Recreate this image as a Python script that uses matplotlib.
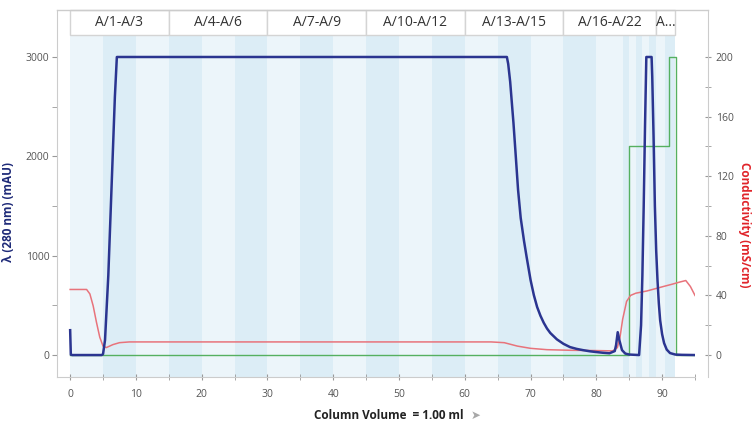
# Chromatogram: UV 280 nm, conductivity and concentration with fraction bands
import matplotlib.pyplot as plt
from matplotlib.patches import Rectangle
from matplotlib.lines import Line2D
import matplotlib.transforms as mtransforms

plt.rcParams['font.family'] = ['Open Sans', 'DejaVu Sans']

# UV absorbance (mAU) vs column volume
uv_cv = [0, 0.1, 0.3, 4.8, 5.0, 5.3, 5.8, 6.3, 6.8, 7.1,
         66.4, 66.6, 66.9, 67.2, 67.4, 67.7, 68.1, 68.5, 69.0, 69.4,
         70.0, 70.5, 71, 71.5, 72, 72.5, 73, 74, 75, 76, 77, 78, 79, 80, 81, 82,
         82.8, 83.0, 83.25, 83.5, 83.9, 84.4, 85, 86.5, 86.8, 87.0, 87.2, 87.4,
         87.6, 88.4, 88.5, 88.7, 88.9, 89.1, 89.3, 89.5, 89.7, 90.0, 90.3,
         90.7, 91.2, 92, 93, 95]
uv_val = [250, 5, 0, 0, 10, 150, 800, 1700, 2600, 3000,
          3000, 2930, 2750, 2500, 2336, 2050, 1662, 1380, 1150, 987,
          755, 603, 483, 396, 325, 267, 222, 158, 113, 80, 62, 49, 38, 30, 23, 18,
          40, 100, 230, 150, 50, 15, 5, 0, 300, 800, 1500, 2300,
          3000, 3000, 2800, 2200, 1500, 1050, 750, 520, 350, 210, 120,
          55, 20, 5, 2, 0]

# Conductivity (mS/cm)
cond_cv = [0, 2.5, 3.0, 3.5, 4.0, 4.5, 5.0, 5.5, 6.5, 7.5, 9, 64, 66, 68, 70,
           72.5, 76, 80, 82.5, 83.2, 83.6, 84.0, 84.6, 85.2, 86, 87.7, 90.2,
           91.5, 92.7, 93.6, 94.3, 95]
cond_val = [44, 44, 41, 33, 22, 12, 6, 5, 7, 8.3, 8.8, 8.8, 8.3, 6, 4.5,
            3.6, 3.2, 3.0, 2.8, 5, 12, 24, 36, 40, 41.5, 43, 46,
            47.5, 49, 50, 46, 40]

# Concentration step (green)
conc_cv = [0, 85, 91, 92.1, 95]
conc_val = [0, 140, 200, 0, 0]

# Fractions
frac_edges = [0, 5, 10, 15, 20, 25, 30, 35, 40, 45, 50, 55, 60, 65, 70, 75,
              80, 84, 85, 86, 87, 88, 89, 90.5, 92]
group_labels = ['A/1-A/3', 'A/4-A/6', 'A/7-A/9', 'A/10-A/12', 'A/13-A/15',
                'A/16-A/22', 'A...']
group_edges = [0, 15, 30, 45, 60, 75, 89, 92]

fig = plt.figure(figsize=(7.53, 4.23), dpi=100)
ax1 = fig.add_axes([57 / 753, 1 - 377 / 423, 638 / 753, 367 / 423])
ax2 = ax1.twinx()
ax1.set_zorder(ax2.get_zorder() + 1)
ax1.patch.set_visible(False)

ax1.set_xlim(-2, 95)
ax1.set_ylim(-221, 3473)
ax2.set_ylim(-221 / 15, 3473 / 15)

hdr_bottom = 0.933
# fraction bands
for i in range(len(frac_edges) - 1):
    c = '#ecf5fa' if i % 2 == 0 else '#dcedf6'
    ax2.axvspan(frac_edges[i], frac_edges[i + 1], ymin=0, ymax=hdr_bottom,
                color=c, lw=0, zorder=0)

# header boxes
trans = mtransforms.blended_transform_factory(ax2.transData, ax2.transAxes)
for lab, x0, x1 in zip(group_labels, group_edges[:-1], group_edges[1:]):
    ax2.add_patch(Rectangle((x0, hdr_bottom), x1 - x0, 1 - hdr_bottom,
                            transform=trans, facecolor='white',
                            edgecolor='#d4d4d4', lw=1, clip_on=False, zorder=1))
    ax2.text((x0 + x1) / 2, (1 + hdr_bottom) / 2, lab, transform=trans,
             ha='center', va='center', fontsize=10, color='#333333')

ax2.plot(conc_cv, conc_val, drawstyle='steps-post', color='#55b060', lw=1.0, zorder=3)
ax2.plot(cond_cv, cond_val, color='#e8737b', lw=1.1, zorder=3)
ax1.plot(uv_cv, uv_val, color='#2b3590', lw=1.8, zorder=4)

# spines
for s in ['top', 'right']:
    ax1.spines[s].set_visible(False)
for s in ['top', 'left', 'bottom']:
    ax2.spines[s].set_visible(False)
ax1.spines['left'].set_color('#cccccc')
ax1.spines['bottom'].set_color('#cccccc')
ax2.spines['right'].set_color('#cccccc')
ax2.spines['right'].set_position(('outward', 9.4))
ax1.add_line(Line2D([0, 1.0204], [1, 1], transform=ax1.transAxes,
                    color='#cccccc', lw=1, clip_on=False))

# ticks
ax1.set_xticks(range(0, 100, 10))
ax1.set_xticks(range(5, 100, 10), minor=True)
ax1.set_yticks([0, 1000, 2000, 3000])
ax1.set_yticks([500, 1500, 2500], minor=True)
ax2.set_yticks([0, 40, 80, 120, 160, 200])
ax2.set_yticks([20, 60, 100, 140, 180], minor=True)

ax1.tick_params(axis='x', which='both', direction='inout', length=5,
                color='#999999', labelsize=7.5, labelcolor='#555555', pad=6)
ax1.tick_params(axis='y', which='both', direction='out', length=3.5,
                color='#999999', labelsize=7.5, labelcolor='#555555', pad=2)
ax2.tick_params(axis='y', which='both', direction='inout', length=5,
                color='#999999', labelsize=7.5, labelcolor='#555555', pad=3)

ax1.set_ylabel('λ (280 nm) (mAU)', color='#1e2a78', fontweight='bold', fontsize=8.5)
ax1.yaxis.set_label_coords(-0.066, 0.45)
ax2.set_ylabel('Conductivity (mS/cm)', color='#e0242a', fontweight='bold',
               fontsize=8.5, rotation=270, ha='center', va='center')
ax2.yaxis.set_label_coords(1.078, 0.414)

fig.text(389 / 753, 1 - 415 / 423, 'Column Volume  = 1.00 ml', ha='center',
         va='center', fontweight='bold', fontsize=8.5, color='#222222')
fig.text(476 / 753, 1 - 415 / 423, '➤', ha='center', va='center',
         fontsize=8.5, color='#a8a8a8')

fig.savefig('out.png', dpi=100)
